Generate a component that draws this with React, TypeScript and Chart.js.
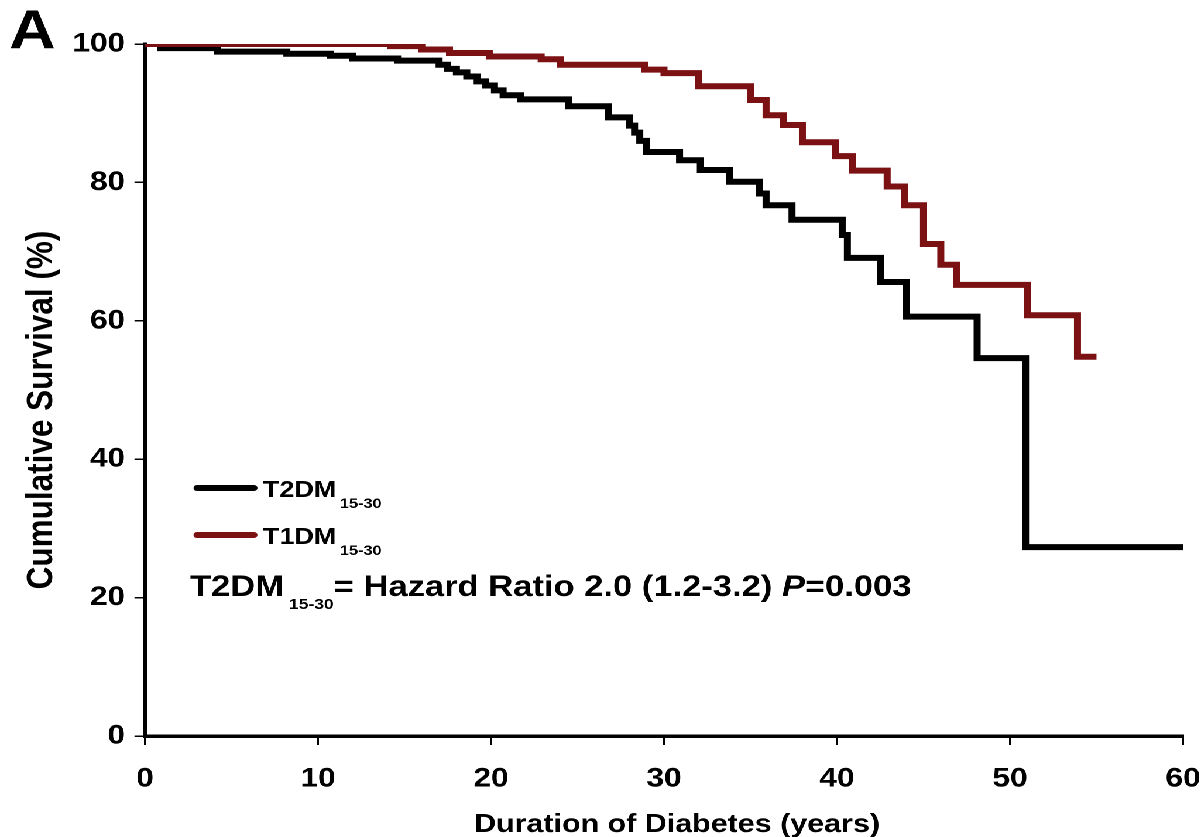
import { useEffect, useRef } from 'react';
import { Chart, registerables } from 'chart.js';

Chart.register(...registerables);

// Kaplan-Meier step data: event time (years) and survival (%) after the event
const t2dmYears = [0, 0.9, 4.2, 8.2, 10.7, 12.0, 14.6, 17.0, 17.5, 18.0, 18.6, 19.2, 19.7, 20.2, 20.7, 21.7, 24.5, 26.8, 28.0, 28.3, 28.6, 29.0, 30.9, 32.1, 33.8, 35.5, 35.9, 37.4, 40.3, 40.6, 42.5, 44.0, 48.1, 50.9, 60];
const t2dmSurvival = [100, 99.4, 98.9, 98.6, 98.3, 97.9, 97.6, 97.0, 96.4, 95.9, 95.3, 94.6, 94.0, 93.3, 92.6, 92.0, 91.0, 89.4, 88.2, 87.2, 86.0, 84.4, 83.2, 81.8, 80.1, 78.4, 76.7, 74.6, 72.4, 69.1, 65.6, 60.6, 54.6, 27.3, 27.3];

const t1dmYears = [0, 14.2, 16.0, 17.6, 19.9, 22.9, 24.0, 28.9, 30.0, 32.0, 35.0, 35.9, 36.9, 38.0, 39.9, 40.9, 42.9, 43.9, 45.0, 46.0, 46.9, 51.0, 53.9, 55.0];
const t1dmSurvival = [100, 99.7, 99.2, 98.7, 98.2, 97.8, 97.0, 96.3, 95.8, 93.9, 91.9, 89.7, 88.3, 85.8, 83.8, 81.7, 79.4, 76.7, 71.1, 68.1, 65.2, 60.8, 54.8, 54.8];

const seriesNames = ['T2DM', 'T1DM'];
const seriesSubscript = '15-30';
const seriesColors = ['#000000', '#7b1113'];

const xTitle = 'Duration of Diabetes (years)';
const yTitle = 'Cumulative Survival (%)';
const panelLetter = 'A';
const hazardLead = 'T2DM';
const hazardText = '= Hazard Ratio 2.0 (1.2-3.2) ';
const hazardP = 'P';
const hazardValue = '=0.003';

// The figure is drawn on a narrower canvas and widened horizontally
const W = 1026;
const H = 837;
const S = 1201 / W;
const px = (v: number) => v / S;

const FONT = '"Liberation Sans", Arial, sans-serif';

const toPoints = (xs: number[], ys: number[]) => xs.map((x, i) => ({ x, y: ys[i] }));

const textPlugin = {
  id: 'figureText',
  afterDraw(chart: any) {
    const ctx: CanvasRenderingContext2D = chart.ctx;
    ctx.save();
    ctx.fillStyle = '#000';
    ctx.textAlign = 'left';
    ctx.textBaseline = 'alphabetic';

    // panel letter
    ctx.font = `bold 55px ${FONT}`;
    ctx.fillText(panelLetter, px(9), 48);

    // y-axis title
    ctx.save();
    ctx.translate(px(42), 410);
    ctx.rotate(-Math.PI / 2);
    ctx.textAlign = 'center';
    ctx.textBaseline = 'middle';
    ctx.font = `bold 31.5px ${FONT}`;
    ctx.fillText(yTitle, 0, 0);
    ctx.restore();

    // x-axis title
    ctx.textAlign = 'center';
    ctx.font = `bold 26px ${FONT}`;
    ctx.fillText(xTitle, px(677), 832);
    ctx.textAlign = 'left';

    // legend
    const legendY = [488, 535];
    seriesNames.forEach((name, i) => {
      const y = legendY[i];
      ctx.strokeStyle = seriesColors[i];
      ctx.lineWidth = 6;
      ctx.lineCap = 'round';
      ctx.beginPath();
      ctx.moveTo(px(197), y);
      ctx.lineTo(px(254), y);
      ctx.stroke();
      ctx.font = `bold 23px ${FONT}`;
      const x0 = px(263);
      ctx.fillText(name, x0, y + 9);
      const w = ctx.measureText(name).width;
      ctx.font = `bold 14px ${FONT}`;
      ctx.fillText(seriesSubscript, x0 + w + 3, y + 20);
    });

    // hazard ratio note
    let x = px(190);
    const base = 596;
    const runs = [
      { text: hazardLead, font: `bold 29.5px ${FONT}`, dy: 0 },
      { text: ' ' + seriesSubscript, font: `bold 15px ${FONT}`, dy: 13 },
      { text: hazardText, font: `bold 29.5px ${FONT}`, dy: 0 },
      { text: hazardP, font: `italic bold 29.5px ${FONT}`, dy: 0 },
      { text: hazardValue, font: `bold 29.5px ${FONT}`, dy: 0 },
    ];
    for (const r of runs) {
      ctx.font = r.font;
      ctx.fillText(r.text, x, base + r.dy);
      x += ctx.measureText(r.text).width;
    }
    ctx.restore();
  },
};

export default function App() {
  const canvasRef = useRef<HTMLCanvasElement>(null);

  useEffect(() => {
    const canvas = canvasRef.current;
    if (!canvas) return;
    const tickFont = { family: FONT, weight: 'bold' as const, size: 27 };
    const chart = new Chart(canvas, {
      type: 'line',
      data: {
        datasets: [
          {
            label: seriesNames[1],
            data: toPoints(t1dmYears, t1dmSurvival),
            borderColor: seriesColors[1],
            backgroundColor: seriesColors[1],
            borderWidth: 6,
            pointRadius: 0,
            stepped: 'before',
            fill: false,
            borderJoinStyle: 'miter',
            borderCapStyle: 'butt',
          },
          {
            label: seriesNames[0],
            data: toPoints(t2dmYears, t2dmSurvival),
            borderColor: seriesColors[0],
            backgroundColor: seriesColors[0],
            borderWidth: 6,
            pointRadius: 0,
            stepped: 'before',
            fill: false,
            borderJoinStyle: 'miter',
            borderCapStyle: 'butt',
          },
        ],
      },
      options: {
        responsive: false,
        animation: false,
        devicePixelRatio: 2,
        layout: { padding: { top: 44, right: W - px(1183), left: 0, bottom: 0 } },
        plugins: {
          legend: { display: false },
          tooltip: { enabled: false },
        },
        scales: {
          x: {
            type: 'linear',
            min: 0,
            max: 60,
            afterFit: (scale: any) => {
              scale.height = H - 736;
              scale.paddingLeft = 0;
              scale.paddingRight = 0;
            },
            grid: {
              display: true,
              drawOnChartArea: false,
              drawTicks: true,
              tickLength: 9,
              color: '#000',
              lineWidth: 1.5,
            },
            border: { display: true, color: '#000', width: 3.5 },
            ticks: { stepSize: 10, color: '#000', font: tickFont, padding: 18, maxRotation: 0 },
          },
          y: {
            type: 'linear',
            min: 0,
            max: 100,
            afterFit: (scale: any) => {
              scale.width = px(145);
              scale.paddingTop = 0;
              scale.paddingBottom = 0;
            },
            grid: {
              display: true,
              drawOnChartArea: false,
              drawTicks: true,
              tickLength: 9,
              color: '#000',
              lineWidth: 1.5,
            },
            border: { display: true, color: '#000', width: 3.5 },
            ticks: { stepSize: 20, color: '#000', font: tickFont, padding: 8 },
          },
        },
      },
      plugins: [textPlugin],
    } as any);
    return () => chart.destroy();
  }, []);

  return (
    <div
      style={{
        position: 'absolute',
        left: 0,
        top: 0,
        width: W,
        height: H,
        background: '#fff',
        transform: `scaleX(${S})`,
        transformOrigin: '0 0',
      }}
    >
      <canvas ref={canvasRef} width={W} height={H} style={{ display: 'block', width: W, height: H }} />
    </div>
  );
}
